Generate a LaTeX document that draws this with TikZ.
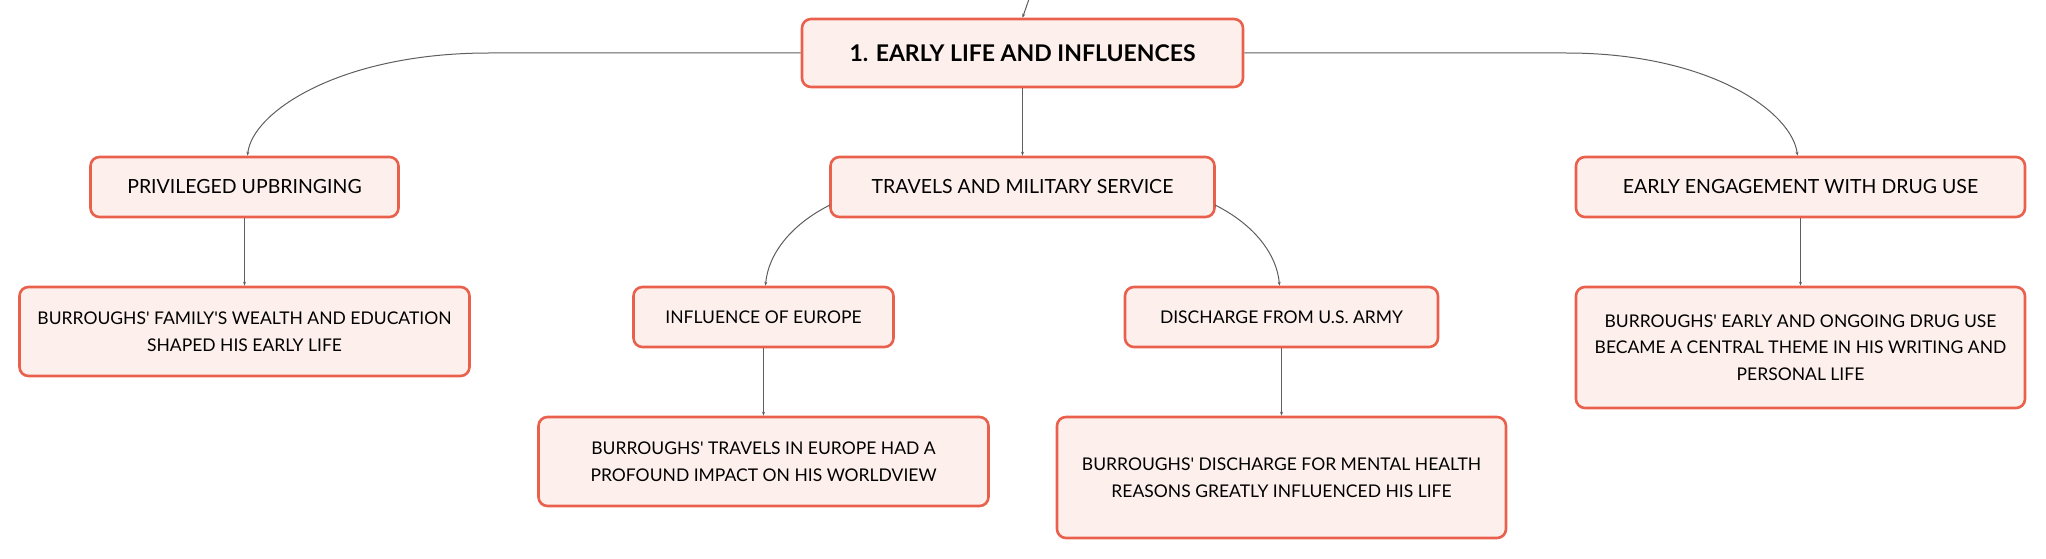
\documentclass[tikz,border=0pt]{standalone}
\usepackage{fontspec}
\setmainfont{Lato}[Ligatures=TeXOff]
\usetikzlibrary{arrows.meta}
\definecolor{boxborder}{HTML}{E9604D}
\definecolor{boxfill}{HTML}{FDF0EC}
\definecolor{linkgray}{HTML}{5E5E5E}
\begin{document}
\begin{tikzpicture}[x=1pt,y=-1pt,
  box/.style={draw=boxborder, fill=boxfill, line width=2.6pt, rounded corners=9pt,
    align=center, inner sep=0pt, text=black},
  rootbox/.style={box, font=\fontsize{23}{27}\selectfont\bfseries},
  lvltwo/.style={box, font=\fontsize{19.5}{26}\selectfont},
  lvlthree/.style={box, font=\fontsize{17.5}{26.5}\selectfont},
  link/.style={draw=linkgray, line width=1pt, -{Stealth[length=4pt,width=3pt]}}
]
\useasboundingbox (0,0) rectangle (2046,559);
\node[rootbox, minimum width=441pt, minimum height=68pt] (root) at (1022.5,53) {1. EARLY LIFE AND INFLUENCES};
\node[lvltwo, minimum width=308pt, minimum height=60pt] (priv) at (244.5,187) {PRIVILEGED UPBRINGING};
\node[lvltwo, minimum width=384pt, minimum height=60pt] (trav) at (1022.5,187) {TRAVELS AND MILITARY SERVICE};
\node[lvltwo, minimum width=449pt, minimum height=60pt] (drug) at (1800.5,187) {EARLY ENGAGEMENT WITH DRUG USE};
\node[lvlthree, minimum width=450pt, minimum height=89pt] (privc) at (244.5,331.5) {BURROUGHS' FAMILY'S WEALTH AND EDUCATION\\SHAPED HIS EARLY LIFE};
\node[lvlthree, minimum width=260pt, minimum height=60pt] (eur) at (763.5,317) {INFLUENCE OF EUROPE};
\node[lvlthree, minimum width=313pt, minimum height=60pt] (dis) at (1281.5,317) {DISCHARGE FROM U.S. ARMY};
\node[lvlthree, minimum width=450pt, minimum height=89pt] (eurc) at (763.5,461.5) {BURROUGHS' TRAVELS IN EUROPE HAD A\\PROFOUND IMPACT ON HIS WORLDVIEW};
\node[lvlthree, minimum width=449pt, minimum height=121pt] (disc) at (1281.5,477.5) {BURROUGHS' DISCHARGE FOR MENTAL HEALTH\\REASONS GREATLY INFLUENCED HIS LIFE};
\node[lvlthree, minimum width=449pt, minimum height=121pt] (drugc) at (1800.5,347.5) {BURROUGHS' EARLY AND ONGOING DRUG USE\\BECAME A CENTRAL THEME IN HIS WRITING AND\\PERSONAL LIFE};

\coordinate (topin) at (1029,-1);
\coordinate (lbend) at (489,53);
\coordinate (rbend) at (1566,53);
\coordinate (tl) at (830,205);
\coordinate (tr) at (1215,205);

\draw[link] (topin) .. controls (1026,8) .. (root.north);
\draw[link] (root.west) -- (lbend) .. controls (340,53) and (252,112) .. ([xshift=3pt]priv.north);
\draw[link] (root.east) -- (rbend) .. controls (1710,53) and (1792,112) .. ([xshift=-3pt]drug.north);
\draw[link] (root.south) -- (trav.north);
\draw[link] (tl) .. controls (790,225) and (768,255) .. ([xshift=2pt]eur.north);
\draw[link] (tr) .. controls (1255,225) and (1277,255) .. ([xshift=-2pt]dis.north);
\draw[link] (priv.south) -- (privc.north);
\draw[link] (eur.south) -- (eurc.north);
\draw[link] (dis.south) -- (disc.north);
\draw[link] (drug.south) -- (drugc.north);
\end{tikzpicture}
\end{document}
